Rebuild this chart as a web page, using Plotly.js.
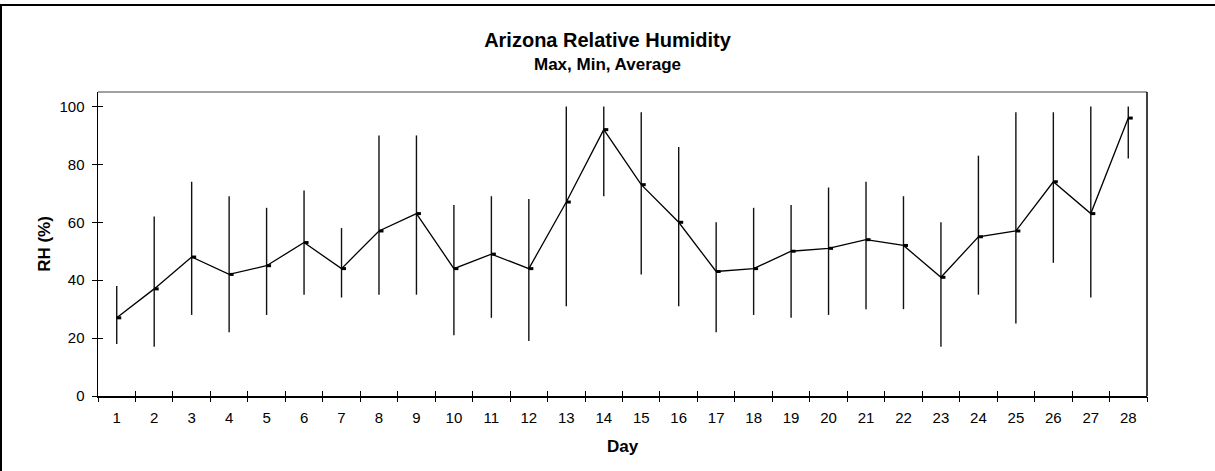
<!DOCTYPE html>
<html>
<head>
<meta charset="utf-8">
<script src="https://cdn.plot.ly/plotly-3.0.1.min.js"></script>
<style>
  html, body { margin: 0; padding: 0; background: #fff; }
  #wrap { position: relative; width: 1215px; height: 471px; overflow: hidden; }
  #chart { position: absolute; left: 0; top: 0; width: 1215px; height: 471px; }
  #frame { position: absolute; left: 0; top: 4px; width: 1215px; height: 467px; box-sizing: border-box;
           border-top: 2px solid #000; border-left: 2px solid #000; pointer-events: none; }
</style>
</head>
<body>
<div id="wrap">
  <div id="chart"></div>
  <div id="frame"></div>
</div>
<script>
// ---- data ----
const days = [1,2,3,4,5,6,7,8,9,10,11,12,13,14,15,16,17,18,19,20,21,22,23,24,25,26,27,28];
const rhMax = [38,62,74,69,65,71,58,90,90,66,69,68,100,100,98,86,60,65,66,72,74,69,60,83,98,98,100,100];
const rhMin = [18,17,28,22,28,35,34,35,35,21,27,19,31,69,42,31,22,28,27,28,30,30,17,35,25,46,34,82];
const rhAvg = [27,37,48,42,45,53,44,57,63,44,49,44,67,92,73,60,43,44,50,51,54,52,41,55,57,74,63,96];
const yTicks = [0,20,40,60,80,100];

// ---- derived ----
const plus = rhMax.map((v, i) => v - rhAvg[i]);
const minus = rhAvg.map((v, i) => v - rhMin[i]);
const boundaries = days.map(d => d - 0.5).concat([days[days.length - 1] + 0.5]);
const xRange = [boundaries[0], boundaries[boundaries.length - 1]];
const yRange = [0, 105];
const font = 'Liberation Sans, Arial, sans-serif';

const traces = [
  {
    type: 'scatter', mode: 'lines', x: days, y: rhAvg,
    line: { color: '#000', width: 1.3 },
    error_y: { type: 'data', symmetric: false, array: plus, arrayminus: minus,
               color: '#111', thickness: 1.4, width: 0 },
    error_x: { type: 'constant', symmetric: false, value: 0.12, valueminus: 0,
               color: '#000', thickness: 3, width: 0 },
    hoverinfo: 'x+y', showlegend: false
  },
  { type: 'scatter', mode: 'none', x: [], y: [], xaxis: 'x2', yaxis: 'y2', showlegend: false, hoverinfo: 'skip' },
  { type: 'scatter', mode: 'none', x: [], y: [], xaxis: 'x3', yaxis: 'y2', showlegend: false, hoverinfo: 'skip' }
];

const layout = {
  width: 1215, height: 471,
  margin: { l: 98, r: 68, t: 92, b: 75 },
  paper_bgcolor: '#fff', plot_bgcolor: '#fff',
  font: { family: font, color: '#000', size: 15 },
  showlegend: false,
  title: {
    text: '<b>Arizona Relative Humidity</b>',
    font: { family: font, size: 20, color: '#000' },
    x: 0.5, xanchor: 'center', xref: 'container',
    y: 1 - 40 / 471, yref: 'container', yanchor: 'middle'
  },
  annotations: [{
    text: '<b>Max, Min, Average</b>', showarrow: false,
    xref: 'paper', yref: 'paper', x: (1215 / 2 - 98) / 1049, y: 1 + 28 / 304, xanchor: 'center', yanchor: 'middle',
    font: { family: font, size: 17, color: '#000' }
  }],
  xaxis: {
    type: 'linear', range: xRange, tickmode: 'array', tickvals: days, ticktext: days.map(String),
    ticks: 'outside', ticklen: 7, tickcolor: 'rgba(0,0,0,0)',
    showline: true, linecolor: '#000', linewidth: 2, showgrid: false, zeroline: false,
    tickfont: { family: font, size: 15, color: '#000' },
    title: { text: '<b>Day</b>', font: { family: font, size: 17, color: '#000' }, standoff: 15 },
    fixedrange: true
  },
  xaxis2: {
    overlaying: 'x', anchor: 'y', type: 'linear', range: xRange, tickmode: 'array', tickvals: boundaries,
    ticks: 'outside', ticklen: 5, tickwidth: 1, tickcolor: '#000', showticklabels: false,
    showline: false, showgrid: false, zeroline: false, fixedrange: true
  },
  xaxis3: {
    overlaying: 'x', anchor: 'y', type: 'linear', range: xRange, tickmode: 'array', tickvals: boundaries,
    ticks: 'inside', ticklen: 5, tickwidth: 1, tickcolor: '#000', showticklabels: false,
    showline: false, showgrid: false, zeroline: false, fixedrange: true
  },
  yaxis: {
    range: yRange, tickmode: 'array', tickvals: yTicks, ticktext: yTicks.map(String),
    ticks: 'outside', ticklen: 5, tickwidth: 1, tickcolor: '#000', ticklabelstandoff: 4,
    showline: true, linecolor: '#000', linewidth: 1.5, showgrid: false, zeroline: false,
    tickfont: { family: font, size: 15, color: '#000' },
    title: { text: '<b>RH (%)</b>', font: { family: font, size: 17, color: '#000' }, standoff: 4 },
    fixedrange: true
  },
  yaxis2: {
    overlaying: 'y', anchor: 'x', range: yRange, tickmode: 'array', tickvals: yTicks,
    ticks: 'inside', ticklen: 5, tickwidth: 1, tickcolor: '#000', showticklabels: false,
    showline: false, showgrid: false, zeroline: false, fixedrange: true
  },
  shapes: [
    { type: 'line', xref: 'paper', yref: 'paper', x0: 0, x1: 1, y0: 1, y1: 1, line: { color: '#808080', width: 1.5 } },
    { type: 'line', xref: 'paper', yref: 'paper', x0: 1, x1: 1, y0: 0, y1: 1, line: { color: '#000', width: 1.5 } }
  ]
};

Plotly.newPlot('chart', traces, layout, { displayModeBar: false, staticPlot: true });
</script>
</body>
</html>
